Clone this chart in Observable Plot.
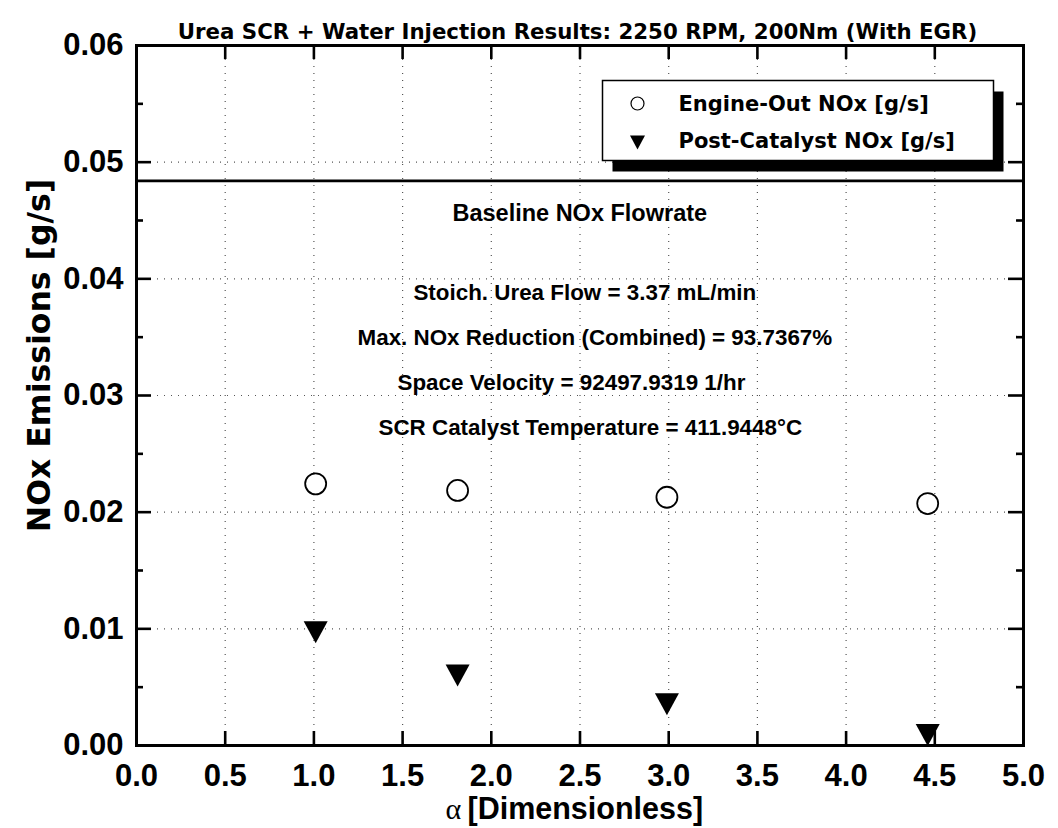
<!DOCTYPE html>
<html><head><meta charset="utf-8">
<script src="https://cdn.jsdelivr.net/npm/d3@7"></script>
<script src="https://cdn.jsdelivr.net/npm/@observablehq/plot@0.6"></script>
<style>
body{margin:0;background:#fff}
#chart{position:relative;width:1058px;height:828px}
</style>
</head><body><div id="chart"></div>
<script>
// ---- data ----
const alphaEngineOut = [1.01, 1.81, 2.99, 4.46];
const noxEngineOut = [0.02243, 0.02186, 0.02128, 0.02074];
const alphaPostCatalyst = [1.01, 1.81, 2.99, 4.46];
const noxPostCatalyst = [0.0097, 0.0060, 0.00353, 0.0009];
const baselineNox = [0.0484];
const xTicks = [0, 0.5, 1, 1.5, 2, 2.5, 3, 3.5, 4, 4.5, 5];
const yTicks = [0, 0.01, 0.02, 0.03, 0.04, 0.05, 0.06];
const yMinorTicks = [0.005, 0.015, 0.025, 0.035, 0.045, 0.055];
const xGrid = [0.5, 1, 1.5, 2, 2.5, 3, 3.5, 4, 4.5];
const yGrid = [0.01, 0.02, 0.03, 0.04, 0.05];
const title = "Urea SCR + Water Injection Results: 2250 RPM, 200Nm (With EGR)";
const seriesNames = ["Engine-Out NOx [g/s]", "Post-Catalyst NOx [g/s]"];
const yLabel = "NOx Emissions [g/s]";
const xLabelSymbol = "α";
const xLabelText = "[Dimensionless]";
const baselineLabel = ["Baseline NOx Flowrate"];
const baselineLabelX = [1.781];
const baselineLabelY = [0.0456];
const annotationLines = [
  "Stoich. Urea Flow = 3.37 mL/min",
  "Max. NOx Reduction (Combined) = 93.7367%",
  "Space Velocity = 92497.9319 1/hr",
  "SCR Catalyst Temperature = 411.9448°C"
];
const annotationX = [1.561, 1.246, 1.471, 1.364];
const annotationY = [0.03883, 0.03497, 0.03111, 0.02726];

// ---- build ----
const engine = alphaEngineOut.map((a, i) => ({alpha: a, nox: noxEngineOut[i]}));
const post = alphaPostCatalyst.map((a, i) => ({alpha: a, nox: noxPostCatalyst[i]}));
const notes = annotationLines.map((t, i) => ({text: t, x: annotationX[i], y: annotationY[i]}));
const baseNote = baselineLabel.map((t, i) => ({text: t, x: baselineLabelX[i], y: baselineLabelY[i]}));

const triangleDown = {
  draw(ctx, size) {
    const r = Math.sqrt(size / Math.PI);
    const h = r * 0.92;
    ctx.moveTo(-r, -h); ctx.lineTo(r, -h); ctx.lineTo(0, h); ctx.closePath();
  }
};

const W = 1058, H = 828, ML = 136, MR = 35, MT = 45, MB = 83;
const PW = W - ML - MR, PH = H - MT - MB;
const bold = "'Liberation Sans', Arial, sans-serif";
const dv = "'DejaVu Sans', sans-serif";

const plot = Plot.plot({
  width: W, height: H,
  marginLeft: ML, marginRight: MR, marginTop: MT, marginBottom: MB,
  x: {domain: [0, 5]},
  y: {domain: [0, 0.06]},
  style: {fontFamily: bold, background: "#fff", color: "#000", overflow: "visible"},
  marks: [
    Plot.ruleX(xGrid, {x: d => d, stroke: "#555", strokeWidth: 1.2, strokeDasharray: "1,6"}),
    Plot.ruleY(yGrid, {y: d => d, stroke: "#555", strokeWidth: 1.2, strokeDasharray: "1,6"}),
    Plot.ruleY(baselineNox, {y: d => d, stroke: "#000", strokeWidth: 2.6}),
    // inward ticks
    Plot.tickY(yTicks, {y: d => d, insetRight: PW - 15, strokeWidth: 2.6}),
    Plot.tickY(yTicks, {y: d => d, insetLeft: PW - 15, strokeWidth: 2.6}),
    Plot.tickY(yMinorTicks, {y: d => d, insetRight: PW - 7, strokeWidth: 2.6}),
    Plot.tickY(yMinorTicks, {y: d => d, insetLeft: PW - 7, strokeWidth: 2.6}),
    Plot.tickX(xTicks, {x: d => d, insetTop: PH - 14, strokeWidth: 2.6}),
    Plot.tickX(xTicks, {x: d => d, insetBottom: PH - 14, strokeWidth: 2.6}),
    Plot.frame({stroke: "#000", strokeWidth: 3}),
    Plot.axisX(xTicks, {tickSize: 0, tickPadding: 18, tickFormat: d3.format(".1f"), fontSize: 31, fontWeight: "bold", label: null}),
    Plot.axisY(yTicks, {tickSize: 0, tickPadding: 13, tickFormat: d3.format(".2f"), fontSize: 31, fontWeight: "bold", label: null}),
    // data
    Plot.dot(engine, {x: "alpha", y: "nox", r: 10.5, stroke: "#000", strokeWidth: 1.8, fill: "#fff"}),
    Plot.dot(post, {x: "alpha", y: "nox", r: 12, symbol: triangleDown, fill: "#000", stroke: "none"}),
    // annotations
    Plot.text(baseNote, {x: "x", y: "y", text: "text", textAnchor: "start", lineAnchor: "middle", fontFamily: bold, fontWeight: "bold", fontSize: 23.5}),
    Plot.text(notes, {x: "x", y: "y", text: "text", textAnchor: "start", lineAnchor: "middle", fontFamily: bold, fontWeight: "bold", fontSize: 22.4}),
    // legend
    Plot.frame({fill: "#000", stroke: "none", insetLeft: 476, insetTop: 46, insetRight: 20, insetBottom: 574}),
    Plot.frame({fill: "#fff", stroke: "#000", strokeWidth: 1.5, insetLeft: 466, insetTop: 35, insetRight: 30, insetBottom: 585}),
    Plot.dot([seriesNames[0]], {x: null, y: null, frameAnchor: "top-left", dx: 501, dy: 58, r: 6.5, stroke: "#000", strokeWidth: 1.2, fill: "#fff"}),
    Plot.dot([seriesNames[1]], {x: null, y: null, frameAnchor: "top-left", dx: 501, dy: 97, r: 7.5, symbol: triangleDown, fill: "#000", stroke: "none"}),
    Plot.text([seriesNames[0]], {frameAnchor: "top-left", dx: 542, dy: 59, textAnchor: "start", lineAnchor: "middle", fontFamily: dv, fontWeight: "bold", fontSize: 21}),
    Plot.text([seriesNames[1]], {frameAnchor: "top-left", dx: 542, dy: 96, textAnchor: "start", lineAnchor: "middle", fontFamily: dv, fontWeight: "bold", fontSize: 21}),
    // title & axis labels
    Plot.text([title], {frameAnchor: "top", dx: -2.5, dy: -13, textAnchor: "middle", lineAnchor: "middle", fontFamily: dv, fontWeight: "bold", fontSize: 21.3}),
    Plot.text([yLabel], {frameAnchor: "left", rotate: -90, dx: -97, dy: -40, textAnchor: "middle", lineAnchor: "middle", fontFamily: dv, fontWeight: "bold", fontSize: 31.5}),
    Plot.text([xLabelSymbol], {frameAnchor: "bottom-left", dx: 309, dy: 64, textAnchor: "start", lineAnchor: "middle", fontFamily: "'Liberation Serif', serif", fontSize: 30}),
    Plot.text([xLabelText], {frameAnchor: "bottom-left", dx: 331, dy: 64, textAnchor: "start", lineAnchor: "middle", fontFamily: bold, fontWeight: "bold", fontSize: 30.5})
  ]
});
document.getElementById("chart").appendChild(plot);
</script>
</body></html>
